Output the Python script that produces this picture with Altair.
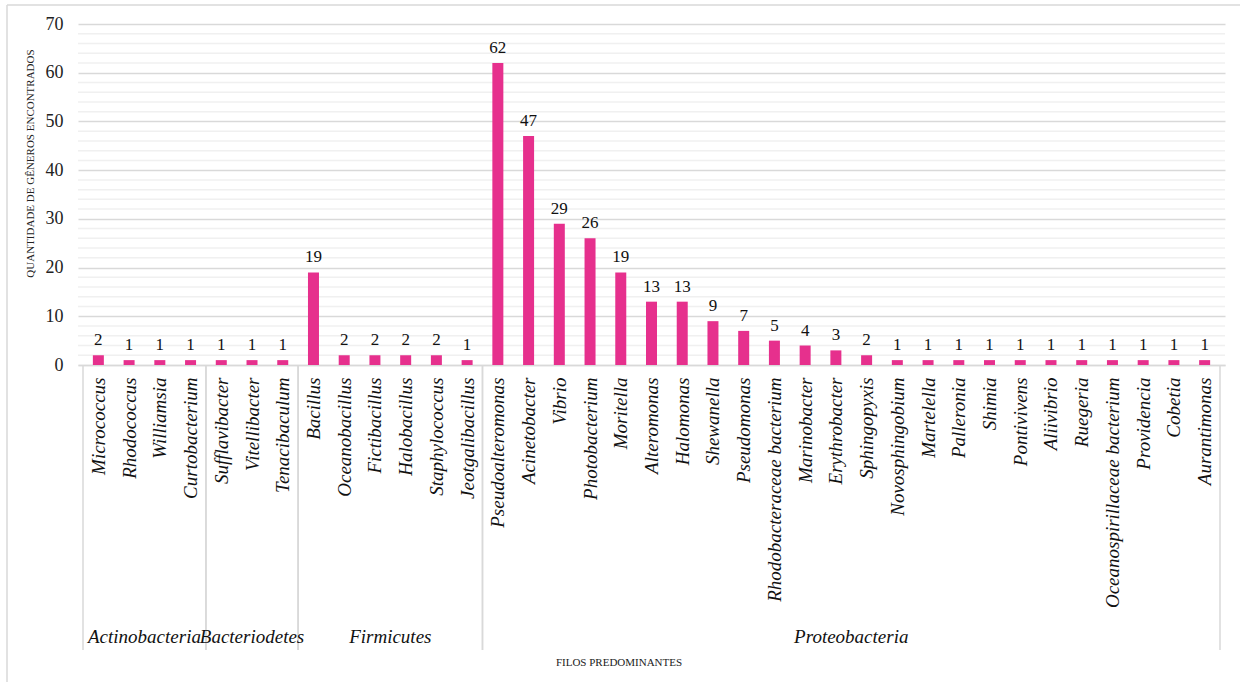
import altair as alt
import pandas as pd

# Genera and how many times each was found, grouped by phylum
phyla = (
    ["Actinobacteria"] * 4
    + ["Bacteriodetes"] * 3
    + ["Firmicutes"] * 6
    + ["Proteobacteria"] * 24
)
genera = [
    "Micrococcus", "Rhodococcus", "Williamsia", "Curtobacterium",
    "Sufflavibacter", "Vitellibacter", "Tenacibaculum",
    "Bacillus", "Oceanobacillus", "Fictibacillus", "Halobacillus",
    "Staphylococcus", "Jeotgalibacillus",
    "Pseudoalteromonas", "Acinetobacter", "Vibrio", "Photobacterium",
    "Moritella", "Alteromonas", "Halomonas", "Shewanella", "Pseudomonas",
    "Rhodobacteraceae bacterium", "Marinobacter", "Erythrobacter",
    "Sphingopyxis", "Novosphingobium", "Martelella", "Palleronia", "Shimia",
    "Pontivivens", "Aliivibrio", "Ruegeria", "Oceanospirillaceae bacterium",
    "Providencia", "Cobetia", "Aurantimonas",
]
counts = [
    2, 1, 1, 1,
    1, 1, 1,
    19, 2, 2, 2, 2, 1,
    62, 47, 29, 26, 19, 13, 13, 9, 7, 5, 4, 3, 2,
    1, 1, 1, 1, 1, 1, 1, 1, 1, 1, 1,
]
y_major = [0, 10, 20, 30, 40, 50, 60, 70]
y_minor = [v for v in range(0, 71, 2) if v % 10]

df = pd.DataFrame({"idx": range(len(genera)), "genus": genera,
                   "phylum": phyla, "count": counts})

W, H = 1147, 341
PINK = "#E6308D"
GRID = "#D9D9D9"
SERIF = "Liberation Serif, Times New Roman, serif"
n = len(genera)

label_expr = "[" + ",".join("'" + g + "'" for g in genera) + "][datum.value]"

x_scale = alt.Scale(domain=[-0.5, n - 0.5], nice=False, zero=False)
y_scale = alt.Scale(domain=[0, 70], nice=False)

x_axis = alt.Axis(
    values=list(range(n)), labelExpr=label_expr, labelAngle=270,
    labelAlign="right", labelBaseline="middle", labelPadding=12,
    labelFont=SERIF, labelFontStyle="italic", labelFontSize=19,
    labelColor="#111", labelOverlap=False, labelBound=False,
    labelLimit=500, labelFlush=False,
    ticks=False, grid=False, domain=True, domainColor=GRID, domainWidth=1.5,
    title=None,
)
y_axis = alt.Axis(
    values=y_major, labelFont=SERIF, labelFontSize=18, labelColor="#222",
    labelPadding=15, ticks=False, domain=False, labelFlush=False,
    grid=True, gridColor=GRID, gridWidth=1.5,
    title="QUANTIDADE DE GÊNEROS ENCONTRADOS", titleFont=SERIF,
    titleFontSize=11, titleFontWeight="normal", titleColor="#222",
    titleAngle=270, titleX=-48, titleY=139, titleAlign="center",
    titleBaseline="middle",
)


def X(field):
    return alt.X(field, scale=x_scale, axis=x_axis)


def Y(field):
    return alt.Y(field, scale=y_scale, axis=y_axis)


base = alt.Chart(df)

minor = alt.Chart(pd.DataFrame({"v": y_minor})).mark_rule(
    color="#F0F0F0", strokeWidth=1.5
).encode(y=Y("v:Q"))

bars = base.mark_bar(color=PINK, size=11).encode(
    x=X("idx:Q"), y=Y("count:Q")
)

values = base.mark_text(
    font=SERIF, fontSize=17, color="#111", baseline="alphabetic", dy=-10
).encode(x=X("idx:Q"), y=Y("count:Q"), text="count:Q")

groups = base.transform_aggregate(
    lo="min(idx)", hi="max(idx)", groupby=["phylum"]
).transform_calculate(
    left="datum.lo - 0.5", right="datum.hi + 0.5",
    center="(datum.lo + datum.hi) / 2",
)

sep_left = groups.mark_rule(color=GRID, strokeWidth=1.5).encode(
    x=X("left:Q"), y=alt.value(H), y2=alt.value(H + 285)
)
sep_right = groups.mark_rule(color=GRID, strokeWidth=1.5).encode(
    x=X("right:Q"), y=alt.value(H), y2=alt.value(H + 285)
)
group_labels = groups.mark_text(
    font=SERIF, fontSize=19, fontStyle="italic", color="#111",
    baseline="middle", align="center",
).encode(x=X("center:Q"), y=alt.value(H + 272), text="phylum:N")

x_title = alt.Chart(pd.DataFrame({"t": ["FILOS PREDOMINANTES"]})).mark_text(
    font=SERIF, fontSize=11, color="#222", baseline="middle", align="center"
).encode(x=alt.value(541), y=alt.value(H + 298), text="t:N")

# light frame around the whole figure
frame_top = alt.Chart(pd.DataFrame({"a": [0]})).mark_rule(
    color=GRID, strokeWidth=1.5
).encode(x=alt.value(-71), x2=alt.value(W + 20), y=alt.value(-19))
frame_left = alt.Chart(pd.DataFrame({"a": [0]})).mark_rule(
    color=GRID, strokeWidth=1.5
).encode(x=alt.value(-71), y=alt.value(-19), y2=alt.value(H + 330))

chart = alt.layer(
    minor, bars, values, sep_left, sep_right, group_labels, x_title,
    frame_top, frame_left,
).properties(
    width=W, height=H,
    autosize=alt.AutoSizeParams(type="none"),
    padding={"left": 78, "top": 24, "right": 1240 - 78 - W,
             "bottom": 682 - 24 - H},
    background="white",
).configure_view(stroke=None)

chart.save("out.html", embed_options={"renderer": "svg", "actions": False})
